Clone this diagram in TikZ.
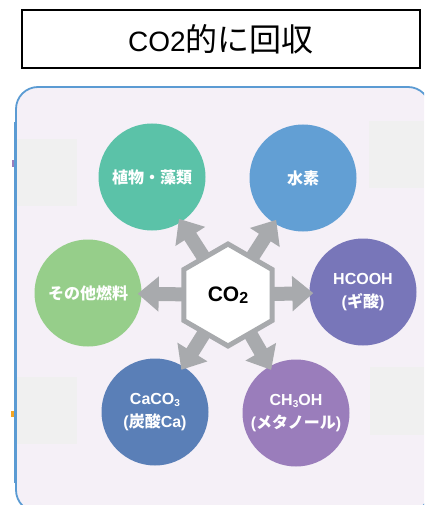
\documentclass[tikz,border=0pt]{standalone}
\usepackage{fontspec}
\setmainfont{Liberation Sans}
\newfontfamily\jp{Noto Sans CJK JP}
\usetikzlibrary{arrows.meta,shapes.geometric}
\definecolor{panelblue}{HTML}{5B9BD3}
\definecolor{panelfill}{HTML}{F5F0F7}
\definecolor{patch}{HTML}{F0F0F0}
\definecolor{arrowgray}{HTML}{A8AAAD}
\definecolor{cplant}{HTML}{5BC2A8}
\definecolor{chydro}{HTML}{629FD4}
\definecolor{cformic}{HTML}{7876B9}
\definecolor{cfuel}{HTML}{96CE8A}
\definecolor{ccarb}{HTML}{5A7FB7}
\definecolor{cmeth}{HTML}{9A7DBB}
\definecolor{tickpurple}{HTML}{9B7DBA}
\definecolor{tickorange}{HTML}{F5A623}
\newcommand{\subsc}[1]{\raisebox{-2.5pt}{\fontsize{10}{10}\selectfont #1}}
\begin{document}
\begin{tikzpicture}[x=1pt,y=-1pt,
  bubble/.style={circle,minimum size=107pt,inner sep=0pt,text=white,
    font=\bfseries\fontsize{16}{23}\selectfont,align=center},
  flow/.style={draw=arrowgray,line width=14pt,-{Triangle[width=34pt,length=21pt]},shorten >=-4pt},
  patchbox/.style={fill=patch,draw=none},
  titlebox/.style={draw=black,line width=1.3pt,minimum width=398pt,minimum height=58pt,inner sep=0pt},
  hexbox/.style={regular polygon,regular polygon sides=6,shape border rotate=30,
    minimum size=102pt,inner sep=0pt,draw=arrowgray,line width=5pt,fill=white}]
\useasboundingbox (0,0) rectangle (424,505);
\begin{scope}
\clip (0,0) rectangle (424,505);
\draw[draw=panelblue,line width=1.8pt,fill=panelfill,rounded corners=22pt] (16,87) rectangle (430,512);
\end{scope}
\draw[panelblue,line width=3pt] (15,122) -- (15,483);
\fill[tickpurple] (11.5,160) rectangle (14,167);
\fill[tickorange] (11,411) rectangle (14,417);
\fill[patchbox] (17,139) rectangle (77,206);
\fill[patchbox] (17,377) rectangle (77,444);
\fill[patchbox] (369,121) rectangle (424,188);
\fill[patchbox] (370,367) rectangle (424,435);
% title
\node[titlebox] (title) at (221,39) {\fontsize{28}{30}\selectfont CO2{\jp\fontsize{32}{32}\selectfont 的に回収}};
% circles
\node[bubble,fill=cplant] (plant) at (152,177) {\jp 植物・藻類};
\node[bubble,fill=chydro] (hydro) at (303,178) {\jp 水素};
\node[bubble,fill=cformic] (formic) at (363,292) {HCOOH\\({\jp ギ酸})};
\node[bubble,fill=cfuel] (fuel) at (88,293) {\jp その他燃料};
\node[bubble,fill=ccarb] (carb) at (155,412) {CaCO\subsc{3}\\({\jp 炭酸}Ca)};
\node[bubble,fill=cmeth] (meth) at (296,413) {CH\subsc{3}OH\\({\jp メタノール})};
% hexagon centre
\coordinate (hc) at (228,295);
\draw[flow] (hc) -- (plant);
\draw[flow] (hc) -- (hydro);
\draw[flow] (hc) -- (formic);
\draw[flow] (hc) -- (fuel);
\draw[flow] (hc) -- (carb);
\draw[flow] (hc) -- (meth);
\node[hexbox] (hex) at (hc) {\bfseries\fontsize{21}{24}\selectfont CO\raisebox{-1.5pt}{\fontsize{16}{16}\selectfont 2}};
\end{tikzpicture}
\end{document}
